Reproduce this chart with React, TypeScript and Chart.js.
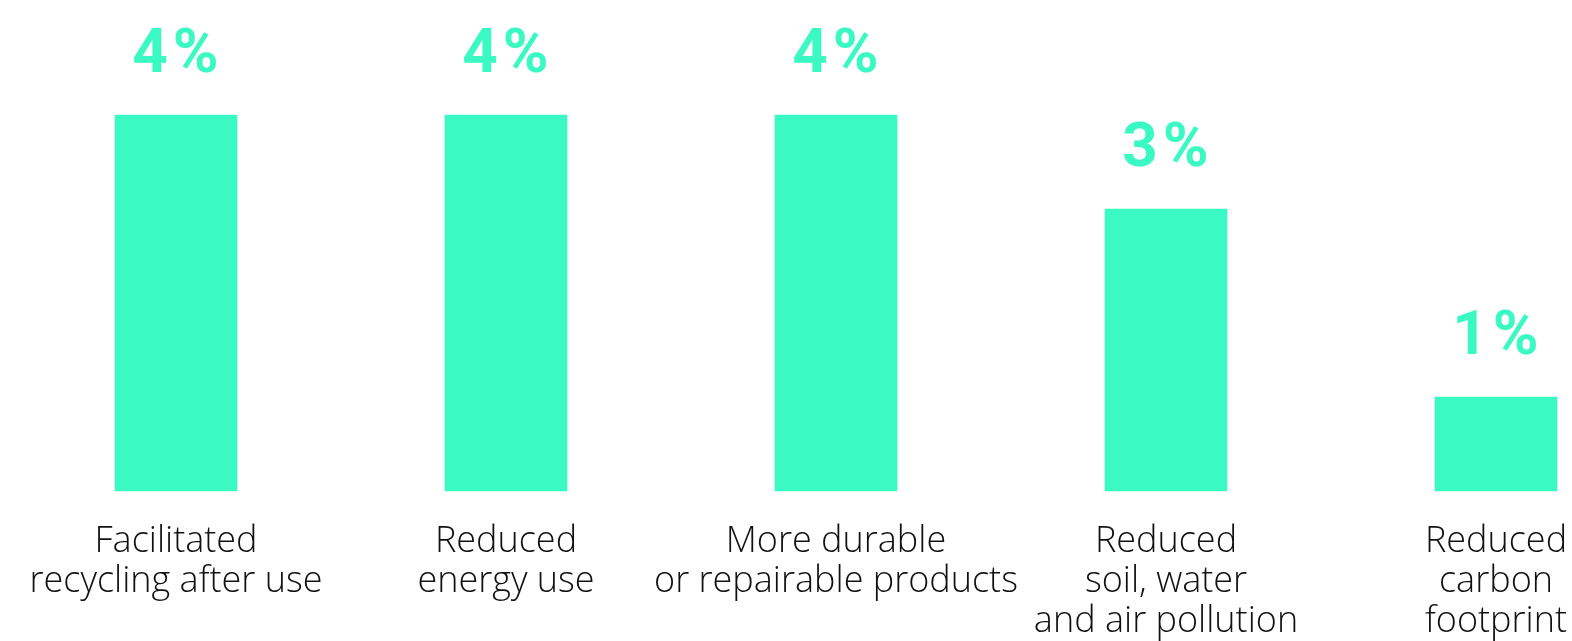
import React, { useEffect, useRef } from "react";
import { Chart, registerables } from "chart.js";

Chart.register(...registerables);

const categories: string[][] = [
  ["Facilitated", "recycling after use"],
  ["Reduced", "energy use"],
  ["More durable", "or repairable products"],
  ["Reduced", "soil, water", "and air pollution"],
  ["Reduced", "carbon", "footprint"],
];
const values: number[] = [4, 4, 4, 3, 1];
const valueLabels: string[] = values.map((v) => `${v}%`);

const TEAL = "#3BF9C3";

const valueLabelPlugin = {
  id: "valueLabels",
  afterDatasetsDraw(chart: any) {
    const ctx = chart.ctx;
    const meta = chart.getDatasetMeta(0);
    ctx.save();
    ctx.fillStyle = TEAL;
    ctx.font = "bold 62px Roboto, 'DejaVu Sans', sans-serif";
    (ctx as any).letterSpacing = "5px";
    ctx.textAlign = "center";
    ctx.textBaseline = "alphabetic";
    meta.data.forEach((bar: any, i: number) => {
      ctx.fillText(valueLabels[i], bar.x + 2, bar.y - 43);
    });
    ctx.restore();
  },
};

export default function App() {
  const ref = useRef<HTMLCanvasElement | null>(null);
  useEffect(() => {
    document.body.style.margin = "0";
    const canvas = ref.current!;
    const chart = new Chart(canvas, {
      type: "bar",
      data: {
        labels: categories,
        datasets: [
          {
            data: values,
            backgroundColor: TEAL,
            borderWidth: 0,
            barThickness: 122,
            clip: false as any,
          },
        ],
      },
      options: {
        animation: false,
        responsive: false,
        maintainAspectRatio: false,
        layout: { padding: { left: 176, right: 76, top: 21, bottom: 0 } },
        plugins: { legend: { display: false }, tooltip: { enabled: false } },
        scales: {
          x: {
            offset: false,
            grid: { display: false, drawTicks: false },
            border: { display: false },
            afterFit: (scale: any) => {
              scale.height = 150;
              scale.paddingLeft = 0;
              scale.paddingRight = 0;
            },
            ticks: {
              color: "#111",
              padding: 31,
              maxRotation: 0,
              autoSkip: false,
              font: { family: "'Open Sans', 'Noto Sans', sans-serif", size: 36, weight: 300 as any, lineHeight: 1.11 },
            },
          },
          y: { display: false, min: 0, max: 5 },
        },
      },
      plugins: [valueLabelPlugin],
    });
    return () => chart.destroy();
  }, []);
  return <canvas ref={ref} width={1572} height={641} style={{ display: "block" }} />;
}
